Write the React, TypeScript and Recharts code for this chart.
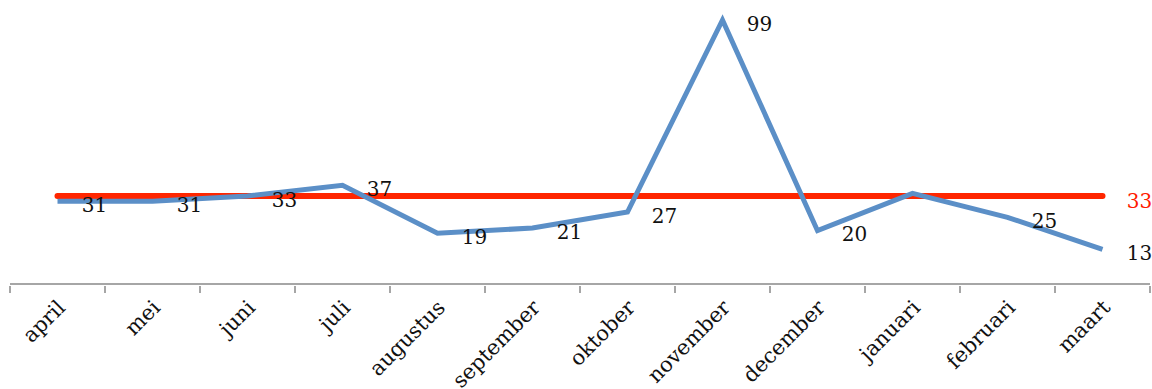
import React from "react";
import { LineChart, Line, XAxis, YAxis, LabelList } from "recharts";

const months = [
  "april", "mei", "juni", "juli", "augustus", "september",
  "oktober", "november", "december", "januari", "februari", "maart",
];
const counts = [31, 31, 33, 37, 19, 21, 27, 99, 20, 34, 25, 13];
const average = 33;
// januari sits on the average line and carries no label
const labelled = [true, true, true, true, true, true, true, true, true, false, true, true];

const data = months.map((m, i) => ({
  month: m,
  count: counts[i],
  avg: average,
}));

const FONT = "'DejaVu Serif', 'Liberation Serif', serif";
const BAND = 95; // width of one month slot on the category axis
const AXIS_GREY = "#a6a6a6";

const CountLabel = (props: any) => {
  const { x, y, value, index } = props;
  if (!labelled[index]) return null;
  return (
    <text x={x + 37} y={y + 5} textAnchor="middle" dominantBaseline="middle"
      fontFamily={FONT} fontSize={20} fill="#111">
      {value}
    </text>
  );
};

const AvgLabel = (props: any) => {
  const { x, y, value, index } = props;
  if (index !== months.length - 1) return null;
  return (
    <text x={x + 37} y={y + 6} textAnchor="middle" dominantBaseline="middle"
      fontFamily={FONT} fontSize={20} fill="#ff1a00">
      {value}
    </text>
  );
};

// Tick marks sit on the slot boundaries, labels on the slot centres.
const MonthTick = (props: any) => {
  const { x, y, payload, index } = props;
  const top = y - 7;
  const last = index === months.length - 1;
  return (
    <g>
      <line x1={x - BAND / 2} x2={x - BAND / 2} y1={top} y2={top + 7}
        stroke={AXIS_GREY} strokeWidth={2} />
      {last && (
        <line x1={x + BAND / 2} x2={x + BAND / 2} y1={top} y2={top + 7}
          stroke={AXIS_GREY} strokeWidth={2} />
      )}
      <g transform={`translate(${x + 5},${y + 12})`}>
        <text transform="rotate(-45)" textAnchor="end" dominantBaseline="middle"
          fontFamily={FONT} fontSize={21} fill="#111">
          {payload.value}
        </text>
      </g>
    </g>
  );
};

export default function App() {
  return (
    <div style={{ position: "absolute", left: 0, top: 0 }}>
      <LineChart width={1152} height={389} data={data}
        margin={{ top: 20, right: 2, bottom: 0, left: 10 }}>
        <XAxis dataKey="month" height={105} interval={0}
          padding={{ left: BAND / 2, right: BAND / 2 }}
          axisLine={{ stroke: AXIS_GREY, strokeWidth: 2 }}
          tickLine={false} tickSize={7}
          tick={<MonthTick />} />
        <YAxis hide domain={[0, 99]} />
        <Line dataKey="avg" stroke="#ff2600" strokeWidth={6} dot={false}
          strokeLinecap="round" isAnimationActive={false}>
          <LabelList dataKey="avg" content={<AvgLabel />} />
        </Line>
        <Line dataKey="count" stroke="#5b8fc7" strokeWidth={5} dot={false}
          isAnimationActive={false}>
          <LabelList dataKey="count" content={<CountLabel />} />
        </Line>
      </LineChart>
    </div>
  );
}
